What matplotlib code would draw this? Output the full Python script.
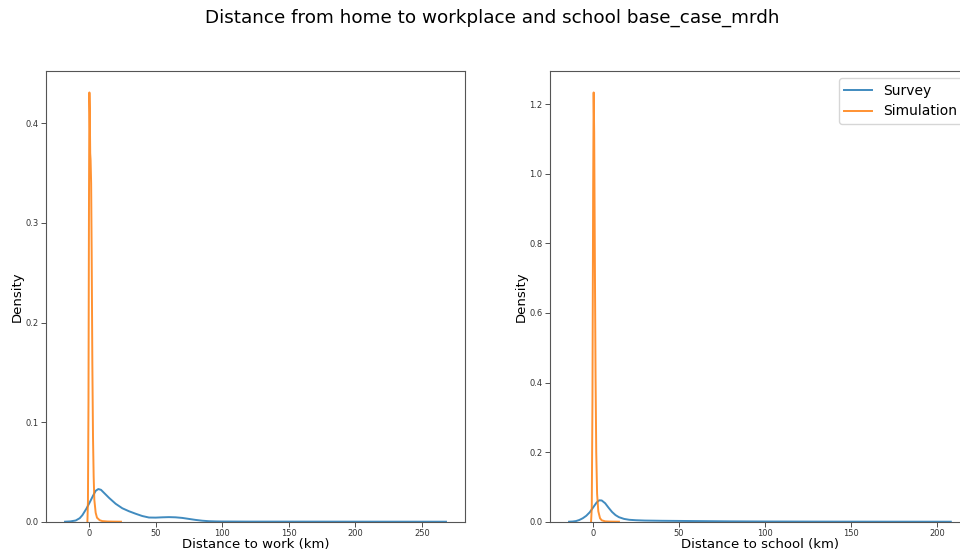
import matplotlib
matplotlib.use('Agg')
import matplotlib.pyplot as plt

# curves (KDE of survey vs simulation distances)
work_survey_x = [-18, -14, -10, -7, -5, -2, 0, 3, 5, 7, 9, 12, 15, 20, 25, 30, 35, 40, 45, 50, 55, 60, 65, 70, 75, 80, 85, 90, 95, 100, 120, 150, 200, 268]
work_survey_y = [0.0, 0.0003, 0.0012, 0.0035, 0.0065, 0.013, 0.018, 0.026, 0.031, 0.0328, 0.032, 0.028, 0.024, 0.018, 0.0135, 0.0105, 0.008, 0.0057, 0.0042, 0.0041, 0.0044, 0.0046, 0.0044, 0.0038, 0.0028, 0.0018, 0.001, 0.0005, 0.0003, 0.0002, 0.0001, 0.0001, 0.00005, 0.0]
work_sim_x = [-1.2, -0.8, -0.4, 0.0, 0.3, 0.6, 0.9, 1.2, 1.6, 2.0, 2.5, 3.0, 3.5, 4.0, 5.0, 6.0, 8.0, 10.0, 14.0, 18.0, 24.0]
work_sim_y = [0.0, 0.02, 0.12, 0.33, 0.431, 0.41, 0.37, 0.363, 0.34, 0.27, 0.16, 0.085, 0.045, 0.022, 0.009, 0.004, 0.0015, 0.0006, 0.0002, 0.0001, 0.0]

school_survey_x = [-14, -12, -10, -8, -6, -4, -2, 0, 2, 3.5, 5, 7, 9, 11, 13, 15, 18, 21, 25, 30, 40, 50, 60, 80, 100, 130, 170, 208]
school_survey_y = [0.0, 0.0005, 0.0018, 0.005, 0.01, 0.017, 0.027, 0.041, 0.055, 0.0615, 0.061, 0.053, 0.04, 0.028, 0.019, 0.013, 0.008, 0.0055, 0.0042, 0.0033, 0.0026, 0.0022, 0.0018, 0.001, 0.0006, 0.0003, 0.0001, 0.0]
school_sim_x = [-1.2, -0.8, -0.4, 0.0, 0.3, 0.6, 1.0, 1.4, 1.8, 2.3, 3.0, 4.0, 5.0, 7.0, 10.0, 15.0]
school_sim_y = [0.0, 0.04, 0.35, 0.95, 1.234, 1.12, 0.75, 0.42, 0.2, 0.08, 0.03, 0.01, 0.004, 0.001, 0.0003, 0.0]

labels = ['Survey', 'Simulation']
title = 'Distance from home to workplace and school base_case_mrdh'

fig = plt.figure(figsize=(9.6, 5.53), dpi=100)
ax1 = fig.add_axes([0.0479, 0.0566, 0.4365, 0.815])
ax2 = fig.add_axes([0.5729, 0.0566, 0.4374, 0.815])

panels = [
    (ax1, work_survey_x, work_survey_y, work_sim_x, work_sim_y, 'Distance to work (km)'),
    (ax2, school_survey_x, school_survey_y, school_sim_x, school_sim_y, 'Distance to school (km)'),
]
for ax, sx, sy, mx, my, xlabel in panels:
    ax.plot(sx, sy, color='#1f77b4', lw=1.4, alpha=0.85, label=labels[0])
    ax.plot(mx, my, color='#ff7f0e', lw=1.4, alpha=0.85, label=labels[1])
    ax.set_ylim(bottom=0)
    ax.set_xlabel(xlabel, fontsize=9.5, labelpad=0)
    ax.set_ylabel('Density', fontsize=9.5, labelpad=1)
    ax.tick_params(labelsize=6, length=3.5, width=0.6, pad=2, colors='#333333')
    for sp in ax.spines.values():
        sp.set_color('#555555')
        sp.set_linewidth(0.8)

ax2.legend(loc='upper right', fontsize=10)
fig.suptitle(title, fontsize=13.2, x=0.513, y=0.985)

fig.savefig('out.png', dpi=100)
